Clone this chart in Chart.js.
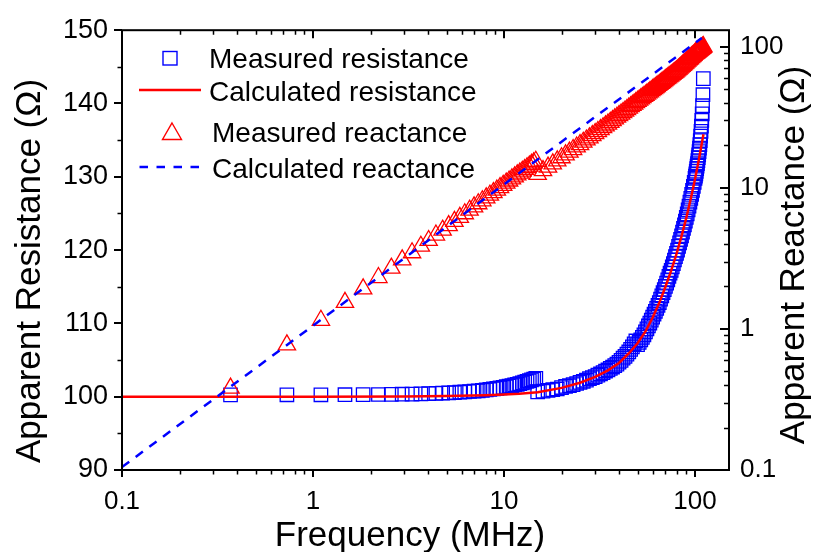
<!DOCTYPE html>
<html><head><meta charset="utf-8">
<script src="https://cdn.jsdelivr.net/npm/chart.js@4/dist/chart.umd.min.js"></script>
<style>html,body{margin:0;padding:0;background:#fff;}#wrap{width:814px;height:552px;}</style>
</head><body><div id="wrap"><canvas id="c" width="814" height="552"></canvas></div>
<script>
// ---------- data ----------
const freqA = [0.37,0.73,1.10,1.47,1.83,2.20,2.57,2.93,3.30,3.67,4.03,4.40,4.77,5.13,5.50,5.87,6.23,6.60,6.97,7.33,7.70,8.07,8.43,8.80,9.17,9.53,9.90,10.27,10.63,11.00,11.37,11.73,12.10,12.47,12.83,13.20,13.57,13.93,14.30,14.67];
const resMeasA = [100.25,100.26,100.26,100.27,100.29,100.30,100.32,100.34,100.36,100.39,100.42,100.45,100.49,100.53,100.57,100.61,100.66,100.71,100.76,100.81,100.87,100.93,100.99,101.06,101.13,101.20,101.28,101.36,101.44,101.52,101.61,101.69,101.79,101.88,101.98,102.08,102.18,102.29,102.40,102.51];
const reactMeasA = [0.38,0.77,1.15,1.54,1.92,2.31,2.69,3.08,3.46,3.85,4.23,4.62,5.00,5.39,5.77,6.16,6.54,6.93,7.31,7.70,8.08,8.47,8.85,9.24,9.62,10.01,10.39,10.78,11.16,11.55,11.93,12.32,12.70,13.09,13.47,13.86,14.24,14.63,15.01,15.40];

const freqB = [15,16,17,18,19,20,21,22,23,24,25,26,27,28,29,30,31,32,33,34,35,36,37,38,39,40,41,42,43,44,45,46,47,48,49,50,51,52,53,54,55,56,57,58,59,60,61,62,63,64,65,66,67,68,69,70,71,72,73,74,75,76,77,78,79,80,81,82,83,84,85,86,87,88,89,90,91,92,93,94,95,96,97,98,99,100,100.5,101,101.5,102,102.5,103,103.5,104,104.5,105,105.5,106,106.5,107,107.5,108,108.5,109,109.5,110,110.5];
const resMeasB = [100.65,100.75,100.85,100.95,101.05,101.25,101.4,101.5,101.65,101.8,101.95,102.1,102.25,102.45,102.6,102.75,102.95,103.1,103.3,103.5,103.65,103.85,104.05,104.25,104.45,104.7,104.95,105.25,105.5,105.8,106.1,106.45,106.8,107.2,107.6,107.1,107.4,107.75,108.1,108.45,108.85,109.25,109.65,110.05,110.45,110.85,111.25,111.65,112.05,112.45,112.85,113.3,113.75,114.2,114.6,115.05,115.5,115.95,116.4,116.85,117.25,117.7,118.15,118.65,119.1,119.55,120.0,120.5,121.0,121.45,121.95,122.45,122.95,123.45,123.95,124.45,124.95,125.5,126.0,126.55,127.05,127.6,128.15,128.7,129.25,129.8,130.1,130.4,130.75,131.1,131.45,131.8,132.2,132.6,133.0,133.45,133.9,134.4,134.95,135.55,136.2,136.9,137.7,138.6,139.7,141.2,143.4];
const reactMeasB = [12.44,13.21,13.99,14.75,15.50,16.30,17.08,17.86,18.64,19.44,20.22,21.01,21.79,22.57,23.40,24.17,25.00,25.78,26.61,27.41,28.25,29.08,29.91,30.75,31.59,32.43,33.26,34.11,34.95,35.80,36.64,37.49,38.34,39.19,40.05,40.90,41.76,42.61,43.47,44.33,45.20,46.06,46.92,47.79,48.66,49.53,50.40,51.27,52.14,53.01,53.89,54.77,55.66,56.53,57.41,58.30,59.19,60.07,60.96,61.85,62.74,63.63,64.53,65.43,66.32,67.21,68.26,69.31,70.36,71.42,72.48,73.56,74.62,75.71,76.80,77.88,78.98,80.08,81.19,82.31,83.41,84.54,85.67,86.80,87.94,89.08,89.75,90.24,90.72,91.21,91.69,92.18,92.66,93.15,93.64,94.14,94.63,95.12,95.60,96.09,96.58,97.07,97.57,98.06,98.56,99.10,99.83];

const freqCalcRes = [0.1,1,3,5,8,10,12,15,20,25,30,35,40,45,50,55,60,65,70,75,80,85,90,95,100,105,110.7];
const resCalc = [100.0,100.0,100.02,100.1,100.2,100.3,100.4,100.6,101.2,101.9,102.7,103.6,104.6,105.9,107.3,108.9,110.8,112.8,115.0,117.2,119.5,121.9,124.4,127.0,129.7,132.5,135.8];
const freqCalcReact = [0.1,108.5];
const reactCalc = [0.105,115];

const seriesNames = ['Measured resistance','Calculated resistance','Measured reactance','Calculated reactance'];
const xTicks = [0.1,1,10,100];
const xTickLabels = ['0.1','1','10','100'];
const leftTicks = [90,100,110,120,130,140,150];
const leftTickLabels = ['90','100','110','120','130','140','150'];
const rightTicks = [0.1,1,10,100];
const rightTickLabels = ['0.1','1','10','100'];
const titleX = 'Frequency (MHz)';
const titleLeft = 'Apparent Resistance (\u03A9)';
const titleRight = 'Apparent Reactance (\u03A9)';

// ---------- chart ----------
const FONT = "'Liberation Sans', Arial, sans-serif";
const BLUE = '#0000ff', RED = '#ff0000';
function pts(xs, ys){ const n=Math.min(xs.length, ys.length); const o=[]; for(let i=0;i<n;i++) o.push({x:xs[i], y:ys[i]}); return o; }
function labelFrom(vals, labels){ return v => { const i = vals.indexOf(v); return i>=0 ? labels[i] : ''; }; }
function minorOf(decades, maxV){ const o=[]; decades.forEach(d=>{ for(let k=2;k<=9;k++){ const v=d*k; if(v<=maxV) o.push(v);} }); return o; }

const decorPlugin = {
  id:'decor',
  afterDatasetsDraw(chart){
    const {ctx, chartArea:a, scales} = chart;
    const x = scales.x, y = scales.y, y2 = scales.y2;
    ctx.save();
    ctx.strokeStyle = '#000';
    const xMinor = minorOf([0.1,1,10,100], x.max);
    const rMinor = minorOf([0.1,1,10,100], y2.max);
    const lMinor = [95,105,115,125,135,145];
    function seg(x1,y1,x2,y2_){ ctx.moveTo(x1,y1); ctx.lineTo(x2,y2_); }
    ctx.lineWidth = 2;
    ctx.beginPath();
    xTicks.forEach(v=>{ const p = Math.round(x.getPixelForValue(v)); seg(p,a.bottom,p,a.bottom+7); seg(p,a.top,p,a.top+8); });
    leftTicks.forEach(v=>{ const p = Math.round(y.getPixelForValue(v)); seg(a.left,p,a.left-8,p); });
    rightTicks.forEach(v=>{ const p = Math.round(y2.getPixelForValue(v)); seg(a.right,p,a.right-9,p); });
    ctx.stroke();
    ctx.lineWidth = 1.5;
    ctx.beginPath();
    xMinor.forEach(v=>{ const p = Math.round(x.getPixelForValue(v))+0.5; seg(p,a.bottom,p,a.bottom+4.5); seg(p,a.top,p,a.top+4.5); });
    lMinor.forEach(v=>{ const p = Math.round(y.getPixelForValue(v))+0.5; seg(a.left,p,a.left-4.5,p); });
    rMinor.forEach(v=>{ const p = Math.round(y2.getPixelForValue(v))+0.5; seg(a.right,p,a.right-5,p); });
    ctx.stroke();
    ctx.lineWidth = 2;
    ctx.strokeRect(a.left, a.top, a.right-a.left, a.bottom-a.top);

    ctx.fillStyle = '#000';
    ctx.textAlign = 'center';
    ctx.textBaseline = 'alphabetic';
    ctx.font = '35px ' + FONT;
    ctx.fillText(titleX, 410, 546);
    ctx.save(); ctx.translate(40, 271); ctx.rotate(-Math.PI/2); ctx.fillText(titleLeft, 0, 0); ctx.restore();
    ctx.save(); ctx.translate(804, 255); ctx.rotate(-Math.PI/2); ctx.fillText(titleRight, 0, 0); ctx.restore();

    ctx.textAlign = 'left';
    ctx.font = '28px ' + FONT;
    ctx.strokeStyle = BLUE; ctx.lineWidth = 1.4;
    ctx.strokeRect(163, 51.5, 14, 13.5);
    ctx.fillText(seriesNames[0], 209, 68);
    ctx.strokeStyle = RED; ctx.lineWidth = 2.5;
    ctx.beginPath(); ctx.moveTo(139, 90); ctx.lineTo(201, 90); ctx.stroke();
    ctx.fillText(seriesNames[1], 209, 101);
    ctx.strokeStyle = RED; ctx.lineWidth = 1.4;
    ctx.beginPath(); ctx.moveTo(172, 123); ctx.lineTo(181.5, 139.5); ctx.lineTo(162.5, 139.5); ctx.closePath(); ctx.stroke();
    ctx.fillText(seriesNames[2], 212, 142);
    ctx.strokeStyle = BLUE; ctx.lineWidth = 2.5; ctx.setLineDash([8.5, 8.5]);
    ctx.beginPath(); ctx.moveTo(139.5, 167); ctx.lineTo(204, 167); ctx.stroke();
    ctx.setLineDash([]);
    ctx.fillText(seriesNames[3], 212, 177.5);
    ctx.restore();
  }
};

new Chart(document.getElementById('c'), {
  type: 'scatter',
  data: {
    datasets: [
      { label: seriesNames[0], data: pts(freqA.concat(freqB), resMeasA.concat(resMeasB)), yAxisID:'y',
        showLine:false, pointStyle:'rect', pointRadius:9.5, pointBorderWidth:1.3,
        borderColor:BLUE, pointBorderColor:BLUE, backgroundColor:'rgba(0,0,0,0)', pointBackgroundColor:'rgba(0,0,0,0)', order:4 },
      { label: seriesNames[1], data: pts(freqCalcRes, resCalc), yAxisID:'y',
        showLine:true, pointRadius:0, borderColor:RED, borderWidth:2.5, tension:0, order:2 },
      { label: seriesNames[2], data: pts(freqA.concat(freqB), reactMeasA.concat(reactMeasB)), yAxisID:'y2',
        showLine:false, pointStyle:'triangle', pointRadius:10, pointBorderWidth:1.3,
        borderColor:RED, pointBorderColor:RED, backgroundColor:'rgba(0,0,0,0)', pointBackgroundColor:'rgba(0,0,0,0)', order:3 },
      { label: seriesNames[3], data: pts(freqCalcReact, reactCalc), yAxisID:'y2',
        showLine:true, pointRadius:0, borderColor:BLUE, borderWidth:2.5, borderDash:[9,8], tension:0, order:1 }
    ]
  },
  options: {
    responsive:false, animation:false, devicePixelRatio:1,
    layout:{ padding:{ top:25, right:0, bottom:0, left:0 } },
    plugins:{ legend:{display:false}, tooltip:{enabled:false} },
    elements:{ point:{ hoverRadius:0 } },
    scales:{
      x:{ type:'logarithmic', position:'bottom', min:0.1, max:150.6,
          grid:{display:false, drawTicks:false}, border:{display:false},
          afterBuildTicks: s => { s.ticks = xTicks.map(v=>({value:v})); },
          ticks:{ font:{family:FONT, size:26}, color:'#000', padding:16, maxRotation:0, autoSkip:false,
                  callback: labelFrom(xTicks, xTickLabels) },
          afterFit: s => { s.height = 82; } },
      y:{ type:'linear', position:'left', min:90, max:150,
          grid:{display:false, drawTicks:false}, border:{display:false},
          afterBuildTicks: s => { s.ticks = leftTicks.map(v=>({value:v})); },
          ticks:{ font:{family:FONT, size:27}, color:'#000', padding:14, autoSkip:false,
                  callback: labelFrom(leftTicks, leftTickLabels) },
          afterFit: s => { s.width = 122; } },
      y2:{ type:'logarithmic', position:'right', min:0.1, max:130.6,
          grid:{display:false, drawTicks:false}, border:{display:false},
          afterBuildTicks: s => { s.ticks = rightTicks.map(v=>({value:v})); },
          ticks:{ font:{family:FONT, size:26}, color:'#000', padding:11, autoSkip:false,
                  callback: labelFrom(rightTicks, rightTickLabels) },
          afterFit: s => { s.width = 85; } }
    }
  },
  plugins:[decorPlugin]
});
</script></body></html>
